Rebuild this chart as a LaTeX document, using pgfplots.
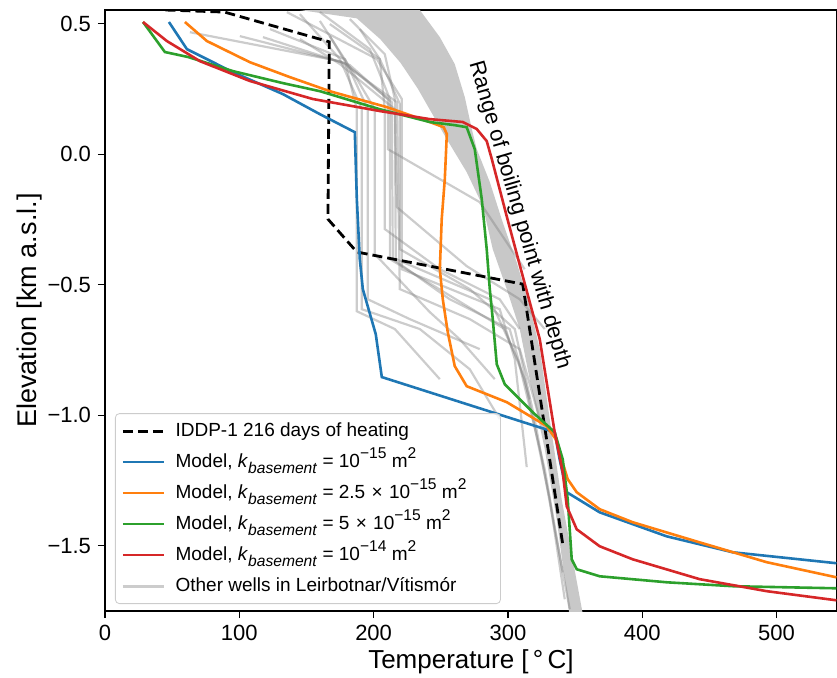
\documentclass[border=0pt]{standalone}
\usepackage{fontspec}
\setmainfont{Liberation Sans}
\usepackage{pgfplots}
\pgfplotsset{compat=1.18}
\definecolor{tabblue}{RGB}{31,119,180}
\definecolor{taborange}{RGB}{255,127,14}
\definecolor{tabgreen}{RGB}{44,160,44}
\definecolor{tabred}{RGB}{214,39,40}
\definecolor{bandgray}{RGB}{200,200,200}
\newcommand{\sub}[1]{\raisebox{-0.3em}{\fontsize{7.8}{8}\selectfont #1}}
\newcommand{\sups}[1]{\raisebox{0.5em}{\fontsize{7.8}{8}\selectfont #1}}
\newcommand{\kb}{\textit{k}\sub{\textit{basement}}}
\begin{document}
\begin{tikzpicture}
\begin{axis}[
  at={(0,0)}, anchor=south west,
  scale only axis, width=366pt, height=300.5pt,
  xmin=0, xmax=545, ymin=-1.75, ymax=0.552,
  xtick={0,100,200,300,400,500}, xticklabels={0,100,200,300,400,500},
  ytick={-1.5,-1,-0.5,0,0.5}, yticklabels={−1.5,−1.0,−0.5,0.0,0.5},
  tick align=outside, tick pos=left, major tick length=3.5pt,
  tick style={black, line width=0.6pt},
  axis line style={line width=0.6pt},
  ticklabel style={font=\fontsize{11}{13}\selectfont},
  xlabel={Temperature [\,°\,C]}, ylabel={Elevation [km a.s.l.]},
  xlabel style={font=\fontsize{13}{15}\selectfont, at={(axis description cs:0.5,-0.085)}, anchor=center},
  ylabel style={font=\fontsize{13.5}{15}\selectfont, at={(axis description cs:-0.1035,0.5)}, anchor=center},
  legend cell align=left,
  legend image code/.code={\draw[#1] (0pt,0pt) -- (20.5pt,0pt);},
  legend style={at={(axis description cs:0,0)}, anchor=south west, xshift=5pt, yshift=3.5pt,
    draw=black!20, rounded corners=2pt, fill=white, fill opacity=0.8, text opacity=1,
    font=\fontsize{9.5}{11}\selectfont, row sep=2pt, column sep=3pt,
    nodes={inner ysep=2pt, text height=7.5pt, text depth=2pt}},
]
\addlegendimage{black, dash pattern=on 5pt off 2.5pt, line width=1.4pt}
\addlegendentry{IDDP-1 216 days of heating}
\addlegendimage{tabblue, line width=1.3pt}
\addlegendentry{Model, \kb\ = 10\sups{−15} m\sups{2}}
\addlegendimage{taborange, line width=1.3pt}
\addlegendentry{Model, \kb\ = 2.5\,\,×\,\,10\sups{−15} m\sups{2}\hspace*{12pt}\mbox{}}
\addlegendimage{tabgreen, line width=1.3pt}
\addlegendentry{Model, \kb\ = 5\,\,×\,\,10\sups{−15} m\sups{2}}
\addlegendimage{tabred, line width=1.3pt}
\addlegendentry{Model, \kb\ = 10\sups{−14} m\sups{2}}
\addlegendimage{gray, opacity=0.4, line width=1.6pt}
\addlegendentry{Other wells in Leirbotnar/Vítismór}

% boiling point range band
\addplot[forget plot, fill=bandgray, draw=none] coordinates {
 (130,0.60) (145.1,0.552) (187.5,0.52) (205,0.44) (220,0.35) (233,0.25) (243,0.16)
 (254.5,0.057) (269.3,-0.069) (281.3,-0.199) (288.7,-0.364) (299.1,-0.517)
 (308.8,-0.670) (316.2,-0.862) (327.4,-1.130) (336.3,-1.398) (346.7,-1.80)
 (357.1,-1.80) (340.0,-1.322) (331.1,-1.015) (323.7,-0.747) (316.2,-0.582)
 (306.5,-0.414) (296.1,-0.261) (286.5,-0.107) (276.8,0.019) (273.1,0.096)
 (267.9,0.218) (260.4,0.345) (249.3,0.448) (234.4,0.552) (228,0.60)
};

% other wells
\pgfplotsset{well/.style={forget plot, gray, opacity=0.4, line width=1.1pt}}
\addplot[well] coordinates {(63.2,0.467) (174.9,0.356) (217.3,0.199) (219.5,-0.517) (271.6,-0.632) (308.8,-0.747) (323.7,-1.015)};
\addplot[well] coordinates {(100.4,0.452) (178.6,0.349) (213.5,0.199) (214.3,-0.402) (256.7,-0.556) (301.3,-0.670) (316.2,-0.939)};
\addplot[well] coordinates {(117.6,0.448) (182.3,0.341) (210.6,0.211) (210.6,0.019) (279.0,-0.184) (312.5,-0.441)};
\addplot[well] coordinates {(135.4,0.544) (202.4,0.364) (221.0,0.211) (221.0,-0.441) (293.9,-0.594) (305.1,-0.785) (314.0,-1.199)};
\addplot[well] coordinates {(145.1,0.536) (174.9,0.364) (191.2,0.172) (191.2,-0.594) (234.4,-0.670) (271.6,-0.824) (293.9,-1.015)};
\addplot[well] coordinates {(160.0,0.510) (182.3,0.333) (200.9,0.172) (200.9,-0.383) (241.8,-0.605) (264.1,-0.709) (290.2,-0.862)};
\addplot[well] coordinates {(167.4,0.452) (178.6,0.356) (187.5,0.172) (187.5,-0.602) (215.8,-0.670) (249.3,-0.862)};
\addplot[well] coordinates {(145.1,0.441) (174.9,0.345) (215.8,0.172) (217.3,-0.203) (269.3,-0.429) (308.8,-0.556) (327.4,-0.670)};
\addplot[well] coordinates {(167.4,0.498) (204.6,0.364) (219.5,0.192) (219.5,-0.364) (271.6,-0.517) (305.1,-0.670) (319.9,-1.015) (334.8,-1.437) (346.0,-1.743)};
\addplot[well] coordinates {(182.3,0.517) (208.3,0.383) (215.8,0.211) (216.5,-0.402) (286.5,-0.556) (308.1,-0.797) (327.4,-1.207) (340.8,-1.602)};
\addplot[well] coordinates {(160.0,0.544) (197.2,0.402) (212.1,0.211) (212.1,-0.402) (297.6,-0.670) (312.5,-0.862) (331.1,-1.322) (342.3,-1.705)};
\addplot[well] coordinates {(122.8,0.479) (178.6,0.364) (195.7,0.172) (195.7,-0.556) (226.9,-0.632) (279.0,-0.747)};
\addplot[well] coordinates {(189.7,0.479) (204.6,0.364) (208.3,0.172) (208.3,-0.287) (249.3,-0.441) (293.9,-0.556) (308.8,-0.670)};

% IDDP-1
\addplot[forget plot, black, dash pattern=on 5pt off 2.5pt, line width=1.4pt] coordinates {
 (45,0.552) (89,0.544) (165,0.433) (167,0.430) (166,-0.249) (187.5,-0.375) (311,-0.498) (340.8,-1.494)
};

% models
\addplot[forget plot, tabblue, line width=1.3pt] coordinates {
 (47.6,0.506) (61.0,0.402) (95.2,0.314) (132.4,0.230) (160.0,0.153) (186.0,0.084)
 (187.5,-0.172) (189.7,-0.402) (191.96,-0.517) (201.6,-0.690) (206.1,-0.854)
 (334.8,-1.065) (338.5,-1.169) (343.8,-1.295) (368.3,-1.372) (418.2,-1.464)
 (467.3,-1.525) (544.6,-1.567)
};
\addplot[forget plot, taborange, line width=1.3pt] coordinates {
 (59.5,0.506) (75.9,0.433) (107.9,0.352) (137.6,0.295) (167.4,0.241) (209.8,0.180)
 (241.8,0.123) (252.2,0.103) (254.5,0.077) (253.0,-0.096) (250.7,-0.249) (249.3,-0.441)
 (251.5,-0.556) (255.2,-0.682) (260.4,-0.812) (269.3,-0.889) (299.1,-0.950)
 (328.9,-1.042) (335.6,-1.092) (340.0,-1.169) (344.5,-1.245) (351.2,-1.295)
 (368.3,-1.360) (392.9,-1.410) (442.7,-1.487) (492.6,-1.563) (544.6,-1.621)
};
\addplot[forget plot, tabgreen, line width=1.3pt] coordinates {
 (28.3,0.506) (44.6,0.391) (61.8,0.372) (95.2,0.318) (132.4,0.272) (160.0,0.241)
 (204.6,0.172) (241.8,0.123) (260.4,0.111) (269.3,0.103) (275.3,0.019) (280.5,-0.172)
 (284.2,-0.364) (286.5,-0.517) (288.7,-0.632) (291.7,-0.805) (297.6,-0.881)
 (303.6,-0.912) (318.5,-0.989) (334.8,-1.065) (340.8,-1.169) (344.5,-1.322)
 (347.5,-1.552) (351.2,-1.590) (368.3,-1.617) (418.2,-1.640) (467.3,-1.655) (544.6,-1.663)
};
\addplot[forget plot, tabred, line width=1.3pt] coordinates {
 (28.3,0.506) (46.1,0.433) (70.7,0.356) (107.9,0.280) (154.8,0.211) (204.6,0.165)
 (241.8,0.134) (266.4,0.123) (276.8,0.096) (284.2,0.050) (288.0,-0.019) (299.1,-0.238)
 (311.0,-0.467) (323.7,-0.709) (334.8,-1.065) (340.8,-1.218) (343.8,-1.349)
 (351.2,-1.437) (368.3,-1.502) (392.9,-1.552) (442.7,-1.628) (492.6,-1.674) (544.6,-1.709)
};

\node[rotate=-73.8, font=\fontsize{11}{13}\selectfont] at (axis cs:308.5,-0.234) {Range of boiling point with depth};
\end{axis}
\pgfresetboundingbox
\path (-52.5pt,-33pt) rectangle (366pt,305.5pt);
\end{tikzpicture}
\end{document}
